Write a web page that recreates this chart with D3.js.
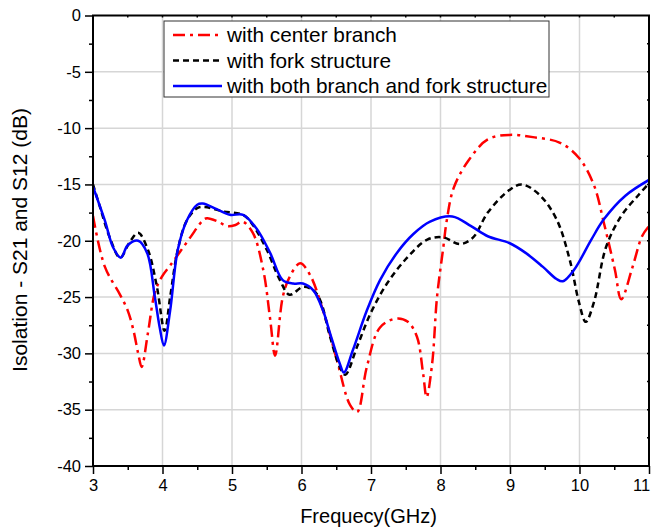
<!DOCTYPE html>
<html>
<head>
<meta charset="utf-8">
<script src="https://cdn.jsdelivr.net/npm/d3@7"></script>
<style>
    body { margin: 0; background: #fff; }
    svg { display: block; font-family: 'Liberation Sans', Arial, sans-serif; }
</style>
</head>
<body>
<svg id="chart" width="652" height="531"></svg>
<script>
// values
let freqRed = [3, 3.17, 3.39, 3.5, 3.58, 3.65, 3.70, 3.79, 3.89, 3.99, 4.11, 4.25, 4.40, 4.58, 4.64, 4.8, 4.93, 5.05, 5.15, 5.30, 5.45, 5.55, 5.62, 5.73, 5.83, 5.98, 6.12, 6.31, 6.51, 6.70, 6.80, 6.94, 7.13, 7.37, 7.53, 7.66, 7.75, 7.80, 7.88, 7.95, 8.04, 8.09, 8.19, 8.40, 8.68, 8.99, 9.33, 9.72, 10.0, 10.21, 10.35, 10.51, 10.60, 10.76, 10.90, 11.0];
let red = [-17.8, -22.3, -24.8, -26.2, -27.9, -30.0, -31.2, -28.2, -24.6, -23.2, -22.2, -21.0, -19.7, -18.2, -18.0, -18.3, -18.7, -18.6, -18.3, -19.3, -22.6, -27.0, -30.2, -25.0, -23.2, -22.0, -23.0, -26.2, -30.6, -34.6, -35.2, -31.2, -27.7, -26.9, -27.2, -28.5, -31.8, -33.9, -30.9, -25.0, -20.6, -18.2, -15.3, -12.9, -11.0, -10.6, -10.8, -11.3, -12.7, -15.1, -18.4, -22.6, -25.2, -22.4, -19.6, -18.7];

let freqBlack = [3, 3.1, 3.24, 3.39, 3.53, 3.65, 3.79, 3.92, 4.03, 4.11, 4.22, 4.35, 4.50, 4.61, 4.87, 5.16, 5.30, 5.50, 5.69, 5.83, 6.02, 6.17, 6.27, 6.41, 6.55, 6.63, 6.80, 6.99, 7.23, 7.52, 7.81, 8.04, 8.28, 8.47, 8.68, 8.99, 9.17, 9.42, 9.67, 9.86, 9.99, 10.09, 10.21, 10.38, 10.60, 10.84, 11.0];
let black = [-15.0, -17.0, -19.7, -21.5, -20.1, -19.3, -20.8, -24.1, -28.0, -25.0, -20.8, -18.2, -17.1, -17.0, -17.4, -17.7, -18.6, -20.8, -23.5, -24.8, -24.1, -24.4, -25.3, -28.5, -31.2, -31.9, -29.4, -26.5, -23.8, -21.5, -19.9, -19.7, -20.3, -19.7, -17.5, -15.5, -15.0, -15.9, -18.1, -21.7, -25.4, -27.2, -25.4, -20.6, -17.8, -16.0, -14.9];

let freqBlue = [3, 3.17, 3.29, 3.40, 3.5, 3.65, 3.78, 3.89, 3.96, 4.02, 4.11, 4.22, 4.35, 4.50, 4.58, 4.78, 4.97, 5.16, 5.35, 5.55, 5.73, 5.88, 6.02, 6.17, 6.31, 6.41, 6.55, 6.61, 6.74, 6.94, 7.13, 7.37, 7.61, 7.85, 8.17, 8.44, 8.68, 8.99, 9.23, 9.47, 9.67, 9.76, 9.92, 10.17, 10.35, 10.66, 11.0];
let blue = [-15.2, -18.2, -20.6, -21.5, -20.4, -20.0, -21.1, -25.0, -27.7, -29.3, -26.2, -20.8, -18.2, -16.8, -16.7, -17.2, -17.7, -17.7, -18.9, -21.1, -23.5, -23.8, -23.8, -24.4, -26.2, -28.2, -30.9, -31.7, -29.7, -26.2, -23.5, -21.1, -19.4, -18.3, -17.85, -18.7, -19.6, -20.2, -21.1, -22.3, -23.4, -23.6, -22.6, -19.9, -18.1, -16.0, -14.6];

let xTicks = [3, 4, 5, 6, 7, 8, 9, 10, 11];
let yTicks = [0, -5, -10, -15, -20, -25, -30, -35, -40];
let seriesNames = ['with center branch', 'with fork structure', 'with both branch and fork structure'];

let margin = { top: 15.5, right: 3, bottom: 65, left: 93 };
let width = 652 - margin.left - margin.right;
let height = 531 - margin.top - margin.bottom;

let svg = d3.select('#chart');
let g = svg.append('g').attr('transform', 'translate(' + margin.left + ',' + margin.top + ')');

let x = d3.scaleLinear().domain([3, 11]).range([0, width]);
let y = d3.scaleLinear().domain([-40, 0]).range([height, 0]);

// grid
g.append('g').selectAll('line').data(xTicks.slice(1, -1)).join('line')
    .attr('x1', d => x(d)).attr('x2', d => x(d))
    .attr('y1', 0).attr('y2', height)
    .attr('stroke', '#d6d6d6').attr('stroke-width', 1.5);
g.append('g').selectAll('line').data(yTicks.slice(1, -1)).join('line')
    .attr('y1', d => y(d)).attr('y2', d => y(d))
    .attr('x1', 0).attr('x2', width)
    .attr('stroke', '#d6d6d6').attr('stroke-width', 1.5);

// curves
g.append('clipPath').attr('id', 'clip').append('rect')
    .attr('width', width).attr('height', height);

let series = [
    { f: freqRed, v: red, color: '#ff0000', dash: '12,5,3,5' },
    { f: freqBlack, v: black, color: '#000000', dash: '6,4' },
    { f: freqBlue, v: blue, color: '#0000ff', dash: null }
];

let line = d3.line()
    .x(d => x(d[0]))
    .y(d => y(d[1]))
    .curve(d3.curveCatmullRom.alpha(0.5));

series.forEach(function(s) {
    g.append('path')
        .datum(s.f.map((f, i) => [f, s.v[i]]))
        .attr('clip-path', 'url(#clip)')
        .attr('fill', 'none')
        .attr('stroke', s.color)
        .attr('stroke-width', 2.5)
        .attr('stroke-dasharray', s.dash)
        .attr('d', line);
});

// axes
let xAxis = d3.axisBottom(x).tickValues(d3.range(3, 11.01, 0.5))
    .tickSize(8).tickFormat(d => Number.isInteger(d) ? d : '');
let yAxis = d3.axisLeft(y).tickValues(d3.range(-40, 0.01, 2.5))
    .tickSize(8).tickFormat(d => d % 5 === 0 ? d : '');

let gx = g.append('g').attr('transform', 'translate(0,' + height + ')').call(xAxis);
let gy = g.append('g').call(yAxis);

[gx, gy].forEach(function(a) {
    a.select('.domain').remove();
    a.selectAll('.tick line').attr('stroke', '#000').attr('stroke-width', 1.5);
    a.selectAll('text').attr('font-size', 16.5).attr('fill', '#000')
        .attr('font-family', "'Liberation Sans', Arial, sans-serif");
});
gx.selectAll('.tick line').attr('y2', d => Number.isInteger(d) ? 8 : 4);
gx.selectAll('text').attr('y', 13).attr('dx', d => d === 11 ? -8 : 0);
gy.selectAll('.tick line').attr('x2', d => d % 5 === 0 ? -8 : -4);
gy.selectAll('text').attr('x', -12);

// small ticks on the top and right edges
g.append('g').selectAll('line').data(d3.range(3.5, 11, 0.5)).join('line')
    .attr('x1', d => x(d)).attr('x2', d => x(d)).attr('y1', 0).attr('y2', 2)
    .attr('stroke', '#000').attr('stroke-width', 1.5);
g.append('g').selectAll('line').data(d3.range(-37.5, 0, 2.5)).join('line')
    .attr('y1', d => y(d)).attr('y2', d => y(d)).attr('x1', width).attr('x2', width - 2)
    .attr('stroke', '#000').attr('stroke-width', 1.5);

g.append('rect')
    .attr('width', width).attr('height', height)
    .attr('fill', 'none').attr('stroke', '#000').attr('stroke-width', 2);

// legend
let legend = g.append('g').attr('transform', 'translate(' + (164 - margin.left) + ',' + (21 - margin.top) + ')');
legend.append('rect')
    .attr('width', 385).attr('height', 76)
    .attr('fill', '#fff').attr('stroke', '#333').attr('stroke-width', 1);
seriesNames.forEach(function(name, i) {
    let ly = 14 + i * 25.5;
    legend.append('line')
        .attr('x1', 9).attr('x2', 58).attr('y1', ly).attr('y2', ly)
        .attr('stroke', series[i].color).attr('stroke-width', 2.5)
        .attr('stroke-dasharray', series[i].dash);
    legend.append('text')
        .attr('x', 63).attr('y', ly + 7)
        .attr('font-size', 20.8).text(name);
});

// axis titles
svg.append('text')
    .attr('x', 368.5).attr('y', 523)
    .attr('text-anchor', 'middle').attr('font-size', 20)
    .text('Frequecy(GHz)');
svg.append('text')
    .attr('transform', 'translate(27,240) rotate(-90)')
    .attr('text-anchor', 'middle').attr('font-size', 21)
    .text('Isolation - S21 and S12 (dB)');
</script>
</body>
</html>
